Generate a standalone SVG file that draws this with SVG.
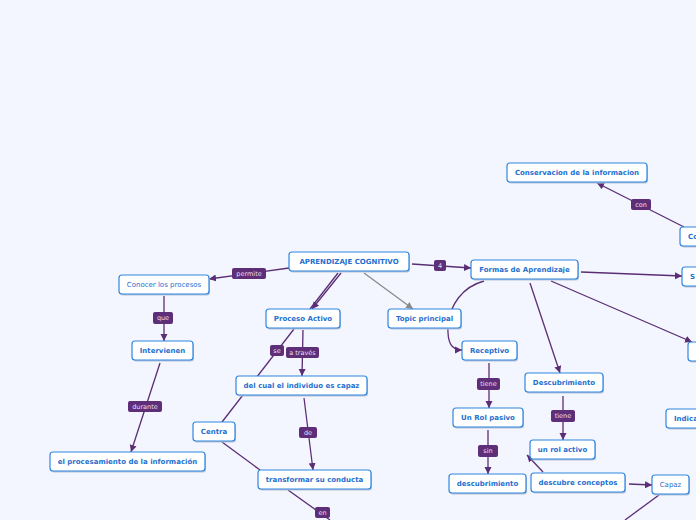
<svg xmlns="http://www.w3.org/2000/svg" width="696" height="520" viewBox="0 0 696 520">
<defs>
<style>
.n rect.b{fill:#ffffff;stroke:#2f86e0;stroke-width:1.2}
.n rect.s{fill:#b9c3d6}
.n text{font-family:"DejaVu Sans",Verdana,sans-serif;font-size:7px;font-weight:bold;fill:#1f6fcf;text-anchor:middle;dominant-baseline:central}
.n text.r{font-weight:normal}
.c path,.c line{fill:none;stroke:#5b2d74;stroke-width:1.3}
.c .g{stroke:#8a8a8a}
.l rect{fill:#5e2f78;rx:2}
.l text{font-family:"DejaVu Sans",Verdana,sans-serif;font-size:6.5px;fill:#eadff2;text-anchor:middle;dominant-baseline:central}
</style>
<marker id="a" markerWidth="8" markerHeight="8" refX="7" refY="4" orient="auto" markerUnits="userSpaceOnUse"><path d="M0,0.5 L7,4 L0,7.5 Z" fill="#5b2d74"/></marker>
<marker id="ag" markerWidth="8" markerHeight="8" refX="7" refY="4" orient="auto" markerUnits="userSpaceOnUse"><path d="M0,0.5 L7,4 L0,7.5 Z" fill="#8a8a8a"/></marker>
</defs>
<rect width="696" height="520" fill="#f3f6fe"/>
<g class="c">
<line x1="289" y1="268" x2="209" y2="279" marker-end="url(#a)"/>
<line x1="164" y1="296" x2="164" y2="341" marker-end="url(#a)"/>
<line x1="160" y1="363" x2="131" y2="452" marker-end="url(#a)"/>
<line x1="338" y1="273" x2="310" y2="309"/>
<line x1="341" y1="273" x2="312" y2="309" marker-end="url(#a)"/>
<line class="g" x1="364" y1="273" x2="413" y2="309" marker-end="url(#ag)"/>
<line x1="412" y1="264" x2="471" y2="268" marker-end="url(#a)"/>
<line x1="294" y1="329" x2="222" y2="422"/>
<line x1="303" y1="330" x2="302" y2="376" marker-end="url(#a)"/>
<line x1="304" y1="398" x2="313" y2="470" marker-end="url(#a)"/>
<line x1="222" y1="442" x2="260" y2="470"/>
<line x1="288" y1="490" x2="330" y2="520"/>
<path d="M484,281 C462,287 450,305 448,325 C447,344 452,350 462,350" marker-end="url(#a)"/>
<line x1="530" y1="283" x2="560" y2="373" marker-end="url(#a)"/>
<line x1="581" y1="272" x2="682" y2="276" marker-end="url(#a)"/>
<line x1="551" y1="281" x2="692" y2="342" marker-end="url(#a)"/>
<line x1="684" y1="227" x2="597" y2="183" marker-end="url(#a)"/>
<line x1="489" y1="363" x2="489" y2="408" marker-end="url(#a)"/>
<line x1="488" y1="430" x2="488" y2="474" marker-end="url(#a)"/>
<line x1="563" y1="396" x2="563" y2="440" marker-end="url(#a)"/>
<line x1="543" y1="472" x2="527" y2="455" marker-end="url(#a)"/>
<line x1="629" y1="484" x2="652" y2="485" marker-end="url(#a)"/>
<line x1="659" y1="495" x2="625" y2="520"/>
</g>
<g class="l">
<rect x="232" y="268" width="34" height="11"/><text x="249" y="273.5">permite</text>
<rect x="153" y="312" width="20" height="12"/><text x="163" y="318">que</text>
<rect x="128" y="401" width="34" height="11"/><text x="145" y="406.5">durante</text>
<rect x="434" y="260" width="12" height="11"/><text x="440" y="265.5">4</text>
<rect x="270" y="345" width="14" height="11"/><text x="277" y="350.5">se</text>
<rect x="286" y="347" width="33" height="11"/><text x="302.5" y="352.5">a través</text>
<rect x="299" y="427" width="18" height="11"/><text x="308" y="432.5">de</text>
<rect x="315" y="507" width="15" height="11"/><text x="322.5" y="512.5">en</text>
<rect x="631" y="199" width="20" height="11"/><text x="641" y="204.5">con</text>
<rect x="477" y="378" width="23" height="12"/><text x="488.5" y="384">tiene</text>
<rect x="478" y="445" width="20" height="12"/><text x="488" y="451">sin</text>
<rect x="551" y="410" width="24" height="12"/><text x="563" y="416">tiene</text>
</g>
<g id="n1" class="n"><rect class="s" x="290" y="253.5" width="120" height="19" rx="3"/><rect class="b" x="289" y="252" width="120" height="19" rx="3"/><text x="349" y="261.5">APRENDIZAJE COGNITIVO</text></g>
<g id="n2" class="n"><rect class="s" x="120" y="276.5" width="90" height="19" rx="3"/><rect class="b" x="119" y="275" width="90" height="19" rx="3"/><text class="r" x="164" y="284.5">Conocer los procesos</text></g>
<g id="n3" class="n"><rect class="s" x="133" y="342.5" width="61" height="19" rx="3"/><rect class="b" x="132" y="341" width="61" height="19" rx="3"/><text x="162.5" y="350.5">Intervienen</text></g>
<g id="n4" class="n"><rect class="s" x="51" y="453.5" width="155" height="19" rx="3"/><rect class="b" x="50" y="452" width="155" height="19" rx="3"/><text x="127.5" y="461.5">el procesamiento de la información</text></g>
<g id="n5" class="n"><rect class="s" x="267" y="310.5" width="74" height="19" rx="3"/><rect class="b" x="266" y="309" width="74" height="19" rx="3"/><text x="303" y="318.5">Proceso Activo</text></g>
<g id="n6" class="n"><rect class="s" x="237" y="377.5" width="131" height="19" rx="3"/><rect class="b" x="236" y="376" width="131" height="19" rx="3"/><text x="301.5" y="385.5">del cual el individuo es capaz</text></g>
<g id="n7" class="n"><rect class="s" x="194" y="423.5" width="42" height="19" rx="3"/><rect class="b" x="193" y="422" width="42" height="19" rx="3"/><text x="214" y="431.5">Centra</text></g>
<g id="n8" class="n"><rect class="s" x="259" y="471.5" width="113" height="19" rx="3"/><rect class="b" x="258" y="470" width="113" height="19" rx="3"/><text x="314.5" y="479.5">transformar su conducta</text></g>
<g id="n9" class="n"><rect class="s" x="389" y="310.5" width="73" height="19" rx="3"/><rect class="b" x="388" y="309" width="73" height="19" rx="3"/><text x="424.5" y="318.5">Topic principal</text></g>
<g id="n10" class="n"><rect class="s" x="472" y="261.5" width="107" height="19" rx="3"/><rect class="b" x="471" y="260" width="107" height="19" rx="3"/><text x="524.5" y="269.5">Formas de Aprendizaje</text></g>
<g id="n11" class="n"><rect class="s" x="508" y="164.5" width="140" height="19" rx="3"/><rect class="b" x="507" y="163" width="140" height="19" rx="3"/><text x="577" y="172.5">Conservacion de la informacion</text></g>
<g id="n12" class="n"><rect class="s" x="681" y="228.5" width="40" height="19" rx="3"/><rect class="b" x="680" y="227" width="40" height="19" rx="3"/><text x="688" y="236.5" style="text-anchor:start">Co</text></g>
<g id="n13" class="n"><rect class="s" x="683" y="268.5" width="40" height="19" rx="3"/><rect class="b" x="682" y="267" width="40" height="19" rx="3"/><text x="690" y="276.5" style="text-anchor:start">S</text></g>
<g id="n14" class="n"><rect class="s" x="689" y="343.5" width="40" height="19" rx="3"/><rect class="b" x="688" y="342" width="40" height="19" rx="3"/></g>
<g id="n15" class="n"><rect class="s" x="667" y="410.5" width="50" height="19" rx="3"/><rect class="b" x="666" y="409" width="50" height="19" rx="3"/><text x="674" y="418.5" style="text-anchor:start">Indica</text></g>
<g id="n16" class="n"><rect class="s" x="463" y="342.5" width="55" height="19" rx="3"/><rect class="b" x="462" y="341" width="55" height="19" rx="3"/><text x="489.5" y="350.5">Receptivo</text></g>
<g id="n17" class="n"><rect class="s" x="454" y="409.5" width="70" height="19" rx="3"/><rect class="b" x="453" y="408" width="70" height="19" rx="3"/><text x="488" y="417.5">Un Rol pasivo</text></g>
<g id="n18" class="n"><rect class="s" x="450" y="475.5" width="77" height="19" rx="3"/><rect class="b" x="449" y="474" width="77" height="19" rx="3"/><text x="487.5" y="483.5">descubrimiento</text></g>
<g id="n19" class="n"><rect class="s" x="526" y="374.5" width="78" height="19" rx="3"/><rect class="b" x="525" y="373" width="78" height="19" rx="3"/><text x="564" y="382.5">Descubrimiento</text></g>
<g id="n20" class="n"><rect class="s" x="531" y="441.5" width="65" height="19" rx="3"/><rect class="b" x="530" y="440" width="65" height="19" rx="3"/><text x="562.5" y="449.5">un rol activo</text></g>
<g id="n21" class="n"><rect class="s" x="532" y="474.5" width="94" height="19" rx="3"/><rect class="b" x="531" y="473" width="94" height="19" rx="3"/><text x="578" y="482.5">descubre conceptos</text></g>
<g id="n22" class="n"><rect class="s" x="653" y="476.5" width="37" height="19" rx="3"/><rect class="b" x="652" y="475" width="37" height="19" rx="3"/><text class="r" x="670.5" y="485">Capaz</text></g>
</svg>
